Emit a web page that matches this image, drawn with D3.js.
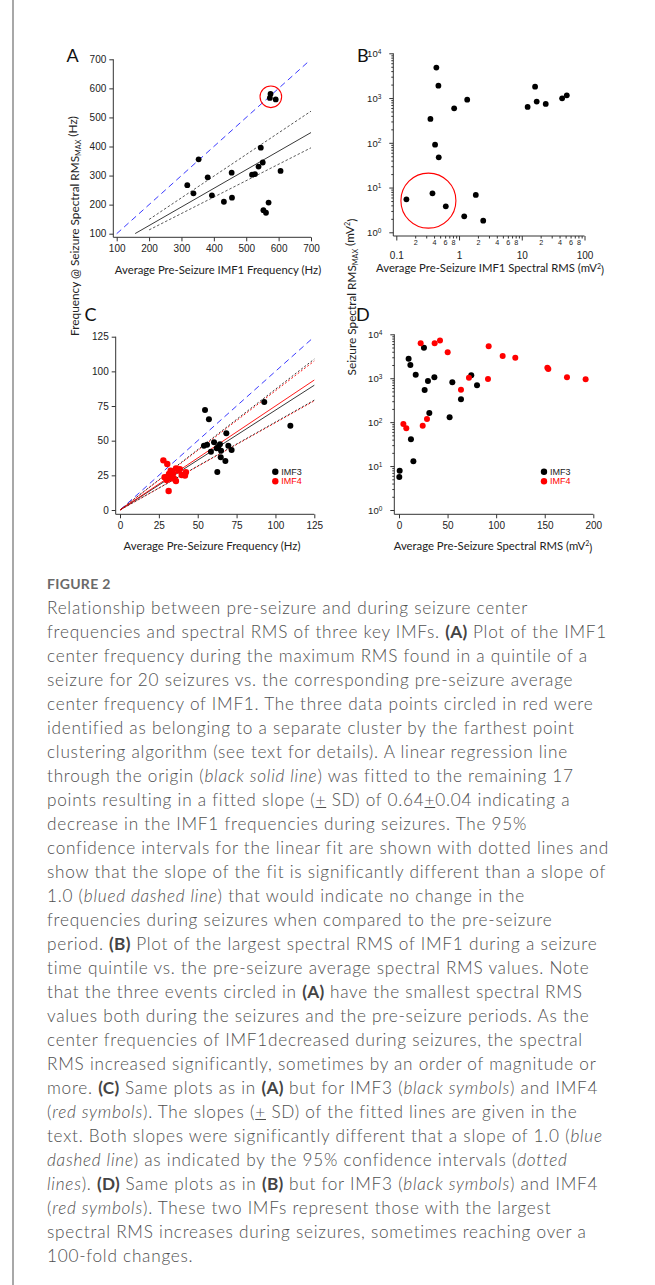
<!DOCTYPE html>
<html>
<head>
<meta charset="utf-8">
<script src="https://cdn.jsdelivr.net/npm/d3@7"></script>
<style>
  body { margin: 0; background: #fff; width: 655px; height: 1285px; position: relative; overflow: hidden; }
  #border { position: absolute; left: 12px; top: 0; width: 1.5px; height: 1285px; background: #a8a8a8; }
  #chart { position: absolute; left: 0; top: 0; }
  #caption { position: absolute; left: 47px; top: 572px; font-family: "Lato", sans-serif; font-weight: 300; color: #4f4f4f; }
  #caption .fig { font-size: 14px; font-weight: 700; color: #6a6a6a; height: 24px; line-height: 24px; letter-spacing: 0.3px; }
  #caption .ln { font-size: 17.2px; line-height: 24px; height: 24px; white-space: nowrap; letter-spacing: 0.75px; }
  #caption b { font-weight: 700; color: #444; letter-spacing: 0.3px; }
</style>
</head>
<body>
<div id="border"></div>
<svg id="chart" width="655" height="565"></svg>
<div id="caption"></div>
<script>
// ---- panel A: IMF1 frequencies (Hz)
const aPreFreq = [353, 318, 337, 381, 394, 431, 455, 456, 545, 551, 538, 518, 527, 606, 569, 553, 561, 575, 573, 591];
const aSzFreq  = [356, 267, 239, 294, 232, 210, 310, 224, 396, 345, 331, 303, 305, 316, 207, 181, 172, 581, 567, 562];
const aTicks = [100, 200, 300, 400, 500, 600, 700];
// slope of fit, upper CI, lower CI ; x start of each line
const aSlopes = [0.64, 0.745, 0.565];
const aLineStart = [157, 200, 200];
const aCircle = [576, 571];

// ---- panel B: IMF1 spectral RMS (mV2)
const bPreRms = [0.435, 0.469, 0.35, 0.415, 0.475, 0.836, 1.35, 0.145, 0.377, 0.615, 1.21, 1.85, 2.43, 12.4, 16.3, 17.3, 24.1, 44.0, 52.2];
const bSzRms  = [4800, 1890, 341, 91, 47.4, 590, 922, 5.46, 7.44, 3.81, 2.28, 6.83, 1.82, 632, 1800, 832, 738, 988, 1150];
const bXTicks = [0.1, 1, 10, 100];
const bCircle = [0.325, 5.1];

// ---- panel C: IMF3 / IMF4 frequencies (Hz)
const cPre3 = [54.7, 57.2, 92.8, 109.6, 54.0, 56.0, 60.5, 58.5, 68.4, 63.2, 64.3, 65.0, 69.7, 71.8, 64.8, 67.8, 62.6, 62.2];
const cSz3  = [72.1, 65.4, 77.9, 60.8, 46.4, 47.1, 48.8, 42.1, 55.3, 45.7, 47.4, 42.8, 46.4, 43.3, 38.0, 35.3, 27.4, 44.5];
const cPre4 = [27.9, 30.4, 31.3, 28.7, 30.0, 32.6, 34.1, 36.0, 37.7, 36.0, 32.6, 34.7, 39.7, 41.8, 42.4, 31.5, 33.5, 38.5];
const cSz4  = [35.8, 33.2, 13.7, 23.6, 21.6, 28.4, 26.4, 30.0, 28.4, 20.9, 22.8, 22.8, 25.2, 24.8, 27.2, 26.0, 24.5, 29.5];
const cTicks = [0, 25, 50, 75, 100, 125];
const cSlopes3 = [0.72, 0.871, 0.634];
const cSlopes4 = [0.75, 0.86, 0.63];

// ---- panel D: IMF3 / IMF4 spectral RMS (mV2)
const dPre3 = [25.7, 9.9, 11.7, 17.2, 29.8, 36.4, 26.4, 54.9, 74.4, 80.3, 63.8, 31.2, 52.1, 12.3, 14.8, 0.7, 0.3];
const dSz3  = [4970, 2790, 2000, 1207, 864, 1050, 540, 807, 1164, 690, 331, 161, 129, 40.6, 12.8, 7.87, 5.64];
const dPre4 = [22.3, 36.7, 42.2, 50.1, 92.3, 106.7, 119.7, 152.7, 153.7, 172.9, 192.1, 91.6, 72.0, 63.8, 28.8, 24.4, 4.5, 7.5];
const dSz4  = [6240, 6240, 7180, 3890, 5330, 3210, 2940, 1740, 1623, 1050, 944, 961, 1030, 550, 118, 83, 91, 72.4];
const dXTicks = [0, 50, 100, 150, 200];
const logYTicks = [1, 10, 100, 1000, 10000];

const captionLines = [
  "Relationship between pre-seizure and during seizure center",
  "frequencies and spectral RMS of three key IMFs. <b>(A)</b> Plot of the IMF1",
  "center frequency during the maximum RMS found in a quintile of a",
  "seizure for 20 seizures vs. the corresponding pre-seizure average",
  "center frequency of IMF1. The three data points circled in red were",
  "identified as belonging to a separate cluster by the farthest point",
  "clustering algorithm (see text for details). A linear regression line",
  "through the origin (<i>black solid line</i>) was fitted to the remaining 17",
  "points resulting in a fitted slope (<u>+</u> SD) of 0.64<u>+</u>0.04 indicating a",
  "decrease in the IMF1 frequencies during seizures. The 95%",
  "confidence intervals for the linear fit are shown with dotted lines and",
  "show that the slope of the fit is significantly different than a slope of",
  "1.0 (<i>blued dashed line</i>) that would indicate no change in the",
  "frequencies during seizures when compared to the pre-seizure",
  "period. <b>(B)</b> Plot of the largest spectral RMS of IMF1 during a seizure",
  "time quintile vs. the pre-seizure average spectral RMS values. Note",
  "that the three events circled in <b>(A)</b> have the smallest spectral RMS",
  "values both during the seizures and the pre-seizure periods. As the",
  "center frequencies of IMF1decreased during seizures, the spectral",
  "RMS increased significantly, sometimes by an order of magnitude or",
  "more. <b>(C)</b> Same plots as in <b>(A)</b> but for IMF3 (<i>black symbols</i>) and IMF4",
  "(<i>red symbols</i>). The slopes (<u>+</u> SD) of the fitted lines are given in the",
  "text. Both slopes were significantly different that a slope of 1.0 (<i>blue</i>",
  "<i>dashed line</i>) as indicated by the 95% confidence intervals (<i>dotted</i>",
  "<i>lines</i>). <b>(D)</b> Same plots as in <b>(B)</b> but for IMF3 (<i>black symbols</i>) and IMF4",
  "(<i>red symbols</i>). These two IMFs represent those with the largest",
  "spectral RMS increases during seizures, sometimes reaching over a",
  "100-fold changes."
];

const svg = d3.select("#chart");
const tickFont = "'Liberation Sans', Arial, sans-serif";
const titleFont = "Lato, 'Open Sans', sans-serif";
const blue = "#3a3aff", red = "#ff0000";
const tickSize = 10;

// draw the L-shaped frame for one panel
function frame(g, x, y, ax, ay) {
  g.append("line").attr("x1", ax).attr("x2", ax).attr("y1", y.range()[1]).attr("y2", ay)
    .attr("stroke", "#333").attr("stroke-width", 1);
  g.append("line").attr("x1", ax).attr("x2", x.range()[1]).attr("y1", ay).attr("y2", ay)
    .attr("stroke", "#333").attr("stroke-width", 1);
}

function styleAxis(sel) {
  sel.select(".domain").remove();
  sel.selectAll(".tick line").attr("stroke", "#333");
  sel.selectAll(".tick text").attr("font-family", tickFont).attr("font-size", tickSize).attr("fill", "#222");
}

function linAxes(g, x, y, ax, ay, xt, yt) {
  frame(g, x, y, ax, ay);
  g.append("g").attr("transform", "translate(0," + ay + ")")
    .call(d3.axisBottom(x).tickValues(xt).tickSize(4).tickPadding(4).tickFormat(d3.format("d")))
    .call(styleAxis);
  g.append("g").attr("transform", "translate(" + ax + ",0)")
    .call(d3.axisLeft(y).tickValues(yt).tickSize(4).tickPadding(3).tickFormat(d3.format("d")))
    .call(styleAxis);
}

// minor ticks on a log scale between the given decades
function minorLog(lo, hi) {
  const out = [];
  for (let p = lo; p < hi; p *= 10) for (let k = 2; k <= 9; k++) out.push(p * k);
  return out;
}

function logYAxis(g, y, ax) {
  g.append("g").attr("transform", "translate(" + ax + ",0)")
    .call(d3.axisLeft(y).tickValues(minorLog(1, 10000)).tickSize(2).tickFormat(""))
    .call(styleAxis);
  const major = g.append("g").attr("transform", "translate(" + ax + ",0)")
    .call(d3.axisLeft(y).tickValues(logYTicks).tickSize(4).tickPadding(8).tickFormat(""))
    .call(styleAxis);
  major.selectAll(".tick text").each(function(d) {
    const t = d3.select(this).attr("dy", "0.35em").attr("font-size", 9.5);
    t.append("tspan").text("10");
    t.append("tspan").attr("font-size", 6.5).attr("dy", "-0.5em").text(Math.round(Math.log10(d)));
  });
}

function dots(g, x, y, xs, ys, col, r) {
  g.append("g").selectAll("circle").data(xs).join("circle")
    .attr("cx", d => x(d)).attr("cy", (d, i) => y(ys[i])).attr("r", r).attr("fill", col);
}

function slopeLine(g, x, y, k, x0, x1, col, dash, w) {
  g.append("line")
    .attr("x1", x(x0)).attr("y1", y(k * x0)).attr("x2", x(x1)).attr("y2", y(k * x1))
    .attr("stroke", col).attr("stroke-width", w).attr("stroke-dasharray", dash);
}

function panelLetter(txt, px, py) {
  svg.append("text").attr("x", px).attr("y", py).text(txt)
    .attr("font-family", titleFont).attr("font-size", 18).attr("fill", "#111");
}

function xTitle(txt, cx, cy, sup) {
  const t = svg.append("text").attr("x", cx).attr("y", cy).attr("text-anchor", "middle")
    .attr("font-family", titleFont).attr("font-size", 11.3).attr("fill", "#222");
  t.append("tspan").text(txt);
  if (sup) {
    t.append("tspan").text("2").attr("font-size", 7).attr("dy", "-0.5em");
    t.append("tspan").text(")").attr("dy", "0.5em");
  }
}

function yTitle(pre, post, cx, cy, sup) {
  const t = svg.append("text").attr("transform", "translate(" + cx + "," + cy + ") rotate(-90)")
    .attr("text-anchor", "middle").attr("font-family", titleFont).attr("font-size", 11.8).attr("fill", "#222");
  t.append("tspan").text(pre);
  t.append("tspan").text("MAX").attr("font-size", 7.2).attr("dy", "0.35em");
  t.append("tspan").text(post).attr("dy", "-0.35em");
  if (sup) {
    t.append("tspan").text("2").attr("font-size", 7.2).attr("dy", "-0.5em");
    t.append("tspan").text(")").attr("dy", "0.5em");
  }
}

function legend(g, lx, ly) {
  [["IMF3", "#000"], ["IMF4", red]].forEach((d, i) => {
    g.append("circle").attr("cx", lx).attr("cy", ly + i * 9.5).attr("r", 3.2).attr("fill", d[1]);
    g.append("text").attr("x", lx + 6).attr("y", ly + i * 9.5).attr("dy", "0.35em").text(d[0])
      .attr("font-family", tickFont).attr("font-size", 9).attr("fill", d[1] === red ? red : "#222");
  });
}

// ---------- Panel A
{
  const g = svg.append("g");
  const x = d3.scaleLinear().domain([100, 700]).range([116.7, 311]);
  const y = d3.scaleLinear().domain([100, 700]).range([233.7, 59.3]);
  linAxes(g, x, y, 113.3, 237.3, aTicks, aTicks);
  slopeLine(g, x, y, 1, 100, 690, blue, "6,4", 1);
  slopeLine(g, x, y, aSlopes[0], aLineStart[0], 700, "#222", null, 0.9);
  slopeLine(g, x, y, aSlopes[1], aLineStart[1], 700, "#444", "2.5,2", 0.9);
  slopeLine(g, x, y, aSlopes[2], aLineStart[2], 700, "#444", "2.5,2", 0.9);
  dots(g, x, y, aPreFreq, aSzFreq, "#000", 2.9);
  g.append("circle").attr("cx", x(aCircle[0])).attr("cy", y(aCircle[1])).attr("r", 10.8)
    .attr("fill", "none").attr("stroke", red).attr("stroke-width", 1.1);
}

// ---------- Panel B
{
  const g = svg.append("g");
  const x = d3.scaleLog().domain([0.1, 100]).range([396.3, 584.5]);
  const y = d3.scaleLog().domain([1, 10000]).range([232.3, 53.3]);
  frame(g, x, y, 393.3, 236);
  const minors = minorLog(0.1, 100);
  g.append("g").attr("transform", "translate(0,236)")
    .call(d3.axisBottom(x).tickValues(minors).tickSize(2.5).tickPadding(1.5)
      .tickFormat(d => { const m = Math.round(d / Math.pow(10, Math.floor(Math.log10(d) + 1e-9))); return m % 2 === 0 ? m : ""; }))
    .call(styleAxis)
    .selectAll(".tick text").attr("font-size", 7.2);
  g.append("g").attr("transform", "translate(0,236)")
    .call(d3.axisBottom(x).tickValues(bXTicks).tickSize(4.5).tickPadding(11).tickFormat(d => d3.format("~g")(d)))
    .call(styleAxis);
  logYAxis(g, y, 393.3);
  dots(g, x, y, bPreRms, bSzRms, "#000", 2.9);
  g.append("circle").attr("cx", x(bCircle[0])).attr("cy", y(bCircle[1])).attr("r", 27.5)
    .attr("fill", "none").attr("stroke", red).attr("stroke-width", 1.1);
}

// ---------- Panel C
{
  const g = svg.append("g");
  const x = d3.scaleLinear().domain([0, 125]).range([120, 314.3]);
  const y = d3.scaleLinear().domain([0, 125]).range([510, 336.7]);
  linAxes(g, x, y, 115.7, 514.3, cTicks, cTicks);
  slopeLine(g, x, y, 1, 0, 124, blue, "6,4", 1);
  slopeLine(g, x, y, cSlopes4[1], 0, 125, red, "2,2", 0.9);
  slopeLine(g, x, y, cSlopes4[2], 0, 125, red, "2,2", 0.9);
  slopeLine(g, x, y, cSlopes3[1], 0.7, 125, "#222", "2,2", 0.9);
  slopeLine(g, x, y, cSlopes3[2], 0.7, 125, "#222", "2,2", 0.9);
  slopeLine(g, x, y, cSlopes3[0], 0, 125, "#222", null, 0.9);
  slopeLine(g, x, y, cSlopes4[0], 0, 125, red, null, 0.9);
  dots(g, x, y, cPre3, cSz3, "#000", 3);
  dots(g, x, y, cPre4, cSz4, red, 3.2);
  legend(g, 275.3, 471.7);
}

// ---------- Panel D
{
  const g = svg.append("g");
  const x = d3.scaleLinear().domain([0, 200]).range([399, 593.3]);
  const y = d3.scaleLog().domain([1, 10000]).range([510, 334.3]);
  frame(g, x, y, 394.3, 514.3);
  g.append("g").attr("transform", "translate(0,514.3)")
    .call(d3.axisBottom(x).tickValues(dXTicks).tickSize(4).tickPadding(4).tickFormat(d3.format("d")))
    .call(styleAxis);
  logYAxis(g, y, 394.3);
  dots(g, x, y, dPre3, dSz3, "#000", 3);
  dots(g, x, y, dPre4, dSz4, red, 3);
  legend(g, 544, 471.7);
}

// ---------- letters and titles
panelLetter("A", 66.5, 61.7);
panelLetter("B", 357, 61.7);
panelLetter("C", 84.5, 320.7);
panelLetter("D", 356, 320.7);
xTitle("Average Pre-Seizure IMF1 Frequency (Hz)", 218, 274);
xTitle("Average Pre-Seizure IMF1 Spectral RMS (mV", 490, 272, true);
xTitle("Average Pre-Seizure Frequency (Hz)", 212, 549.5);
xTitle("Average Pre-Seizure Spectral RMS (mV", 493, 549.5, true);
yTitle("Frequency @ Seizure Spectral RMS", " (Hz)", 78.5, 226, false);
yTitle("Seizure Spectral RMS", " (mV", 355.5, 297, true);

// ---------- caption
const cap = d3.select("#caption");
cap.append("div").attr("class", "fig").text("FIGURE 2");
cap.selectAll("div.ln").data(captionLines).join("div").attr("class", "ln").html(d => d);
</script>
</body>
</html>
